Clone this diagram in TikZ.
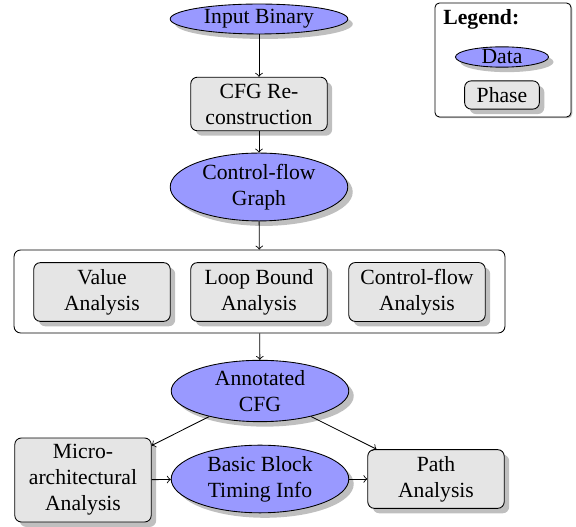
\documentclass[tikz,border=0pt]{standalone}
\usepackage{fontspec}
\setmainfont{Liberation Serif}
\usetikzlibrary{shapes.geometric,shadows}
\begin{document}
\begin{tikzpicture}[x=0.4618pt,y=-0.4618pt,
  datanode/.style={ellipse,draw,fill=blue!40,drop shadow,inner sep=0.5pt,minimum width=82pt,align=center},
  phasebox/.style={rectangle,rounded corners=3pt,draw,fill=gray!20,drop shadow,inner sep=3pt,minimum width=63pt,align=center},
  flow/.style={->}]
\useasboundingbox (0,0) rectangle (576,527);
% main column
\node[datanode] (in) at (259,19) {Input Binary};
\node[phasebox] (cfgr) at (259,104) {CFG Re-\\construction};
\node[datanode] (cfg) at (259,187) {Control-flow\\Graph};
% analysis container
\node[draw,rounded corners=3pt,fill=white,minimum width=226.7pt,minimum height=38.3pt] (ana) at (259.5,291.5) {};
\node[phasebox] (va) at (102,292) {Value\\Analysis};
\node[phasebox] (lb) at (259,292) {Loop Bound\\Analysis};
\node[phasebox] (cfa) at (417,292) {Control-flow\\Analysis};
% lower part
\node[datanode] (acfg) at (260,391) {Annotated\\CFG};
\node[phasebox] (micro) at (83,480) {Micro-\\architectural\\Analysis};
\node[datanode] (bb) at (260,479) {Basic Block\\Timing Info};
\node[phasebox] (path) at (436,479) {Path\\Analysis};
% legend
\node[draw,rounded corners=2pt,fill=white,drop shadow={shadow xshift=0.6pt,shadow yshift=-0.6pt},minimum width=62.8pt,minimum height=52.6pt] (leg) at (503,60) {};
\node[anchor=base west,inner sep=0pt,font=\bfseries] (legt) at (443,25) {Legend:};
\node[datanode,minimum width=43pt,inner sep=0pt] (ldata) at (502,57) {Data};
\node[phasebox,minimum width=34.5pt] (lphase) at (502,95) {Phase};
% connectors
\draw[flow] (in) -- (cfgr);
\draw[flow] (cfgr) -- (cfg);
\draw[flow] (cfg) -- (ana);
\draw[flow] (ana) -- (acfg);
\draw[flow] (acfg) -- (micro);
\draw[flow] (acfg) -- (path);
\draw[flow] (micro) -- (bb);
\draw[flow] (bb) -- (path);
\end{tikzpicture}
\end{document}
